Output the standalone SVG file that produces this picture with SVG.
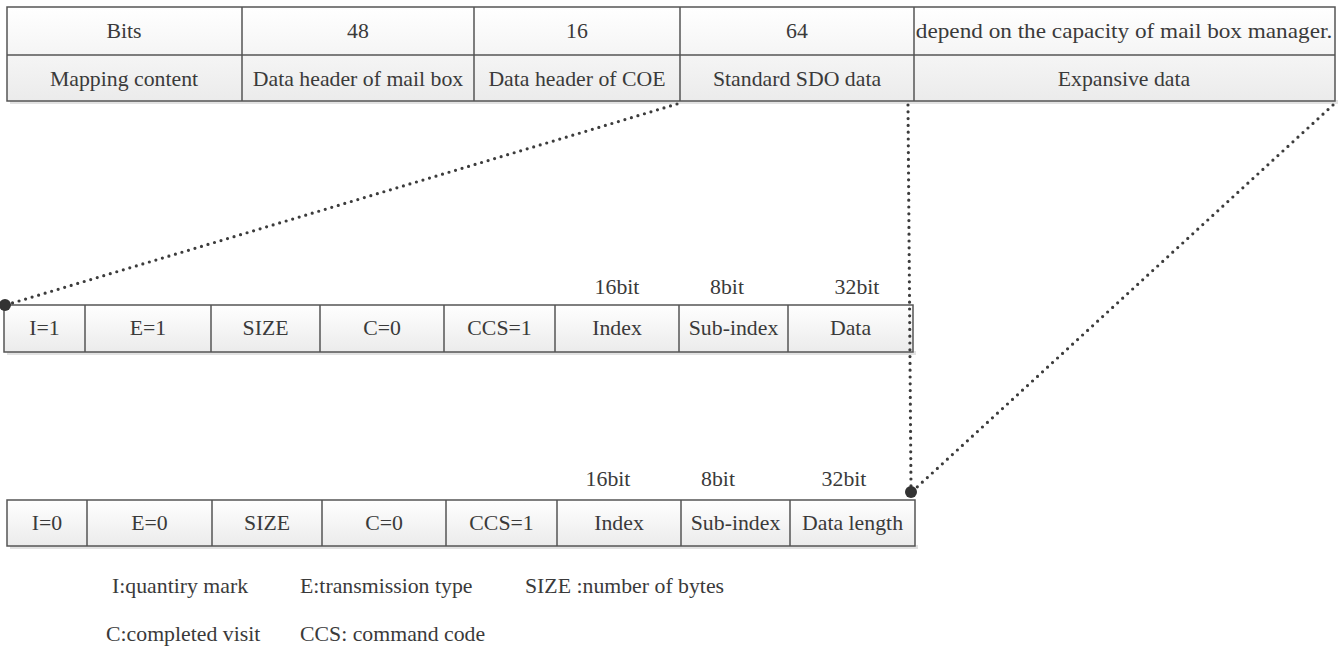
<svg xmlns="http://www.w3.org/2000/svg" width="1343" height="648" viewBox="0 0 1343 648">
<defs>
<linearGradient id="cellfill" x1="0" y1="0" x2="0" y2="1">
<stop offset="0" stop-color="#ffffff"/>
<stop offset="1" stop-color="#ebebeb"/>
</linearGradient>
<style>
.cell{fill:url(#cellfill);stroke:#555555;stroke-width:1.5}
.shadow{fill:#e2e2e2}
.div{stroke:#555555;stroke-width:1.5}
.t{font-family:"Liberation Serif","Times New Roman",serif;font-size:20px;fill:#3a3a3a;text-anchor:middle}
.l{font-family:"Liberation Serif","Times New Roman",serif;font-size:20px;fill:#3a3a3a;text-anchor:start}
.dot{fill:none;stroke:#3c3c3c;stroke-width:3.2;stroke-linecap:round;stroke-dasharray:0 6.8}
.end{fill:#333333}
</style>
</defs>
<rect width="1343" height="648" fill="#ffffff"/>

<g id="top-table">
<rect class="shadow" x="10" y="100" width="1328" height="4"/>
<rect class="cell" x="7" y="7" width="1328" height="94"/>
<line class="div" x1="7" y1="55" x2="1335" y2="55"/>
<line class="div" x1="242" y1="7" x2="242" y2="101"/>
<line class="div" x1="474" y1="7" x2="474" y2="101"/>
<line class="div" x1="680" y1="7" x2="680" y2="101"/>
<line class="div" x1="914" y1="7" x2="914" y2="101"/>
<text class="t" transform="translate(124,38) scale(1.09,1)">Bits</text>
<text class="t" transform="translate(358,38) scale(1.09,1)">48</text>
<text class="t" transform="translate(577,38) scale(1.09,1)">16</text>
<text class="t" transform="translate(797,38) scale(1.09,1)">64</text>
<text class="t" transform="translate(1124,38) scale(1.09,1)" textLength="382" lengthAdjust="spacingAndGlyphs">depend on the capacity of mail box manager.</text>
<text class="t" transform="translate(124,86) scale(1.09,1)">Mapping content</text>
<text class="t" transform="translate(358,86) scale(1.09,1)">Data header of mail box</text>
<text class="t" transform="translate(577,86) scale(1.09,1)">Data header of COE</text>
<text class="t" transform="translate(797,86) scale(1.09,1)">Standard SDO data</text>
<text class="t" transform="translate(1124,86) scale(1.09,1)">Expansive data</text>
</g>

<g id="request-frame">
<rect class="shadow" x="7" y="351" width="909" height="4"/>
<rect class="cell" x="4" y="305" width="909" height="47"/>
<line class="div" x1="85" y1="305" x2="85" y2="352"/>
<line class="div" x1="211" y1="305" x2="211" y2="352"/>
<line class="div" x1="320" y1="305" x2="320" y2="352"/>
<line class="div" x1="444" y1="305" x2="444" y2="352"/>
<line class="div" x1="555" y1="305" x2="555" y2="352"/>
<line class="div" x1="679" y1="305" x2="679" y2="352"/>
<line class="div" x1="788" y1="305" x2="788" y2="352"/>
<text class="t" transform="translate(617,294) scale(1.09,1)">16bit</text>
<text class="t" transform="translate(727,294) scale(1.09,1)">8bit</text>
<text class="t" transform="translate(857,294) scale(1.09,1)">32bit</text>
<text class="t" transform="translate(44.5,335) scale(1.09,1)">I=1</text>
<text class="t" transform="translate(148,335) scale(1.09,1)">E=1</text>
<text class="t" transform="translate(265.5,335) scale(1.09,1)">SIZE</text>
<text class="t" transform="translate(382,335) scale(1.09,1)">C=0</text>
<text class="t" transform="translate(499.5,335) scale(1.09,1)">CCS=1</text>
<text class="t" transform="translate(617,335) scale(1.09,1)">Index</text>
<text class="t" transform="translate(733.5,335) scale(1.09,1)">Sub-index</text>
<text class="t" transform="translate(850.5,335) scale(1.09,1)">Data</text>
</g>

<g id="response-frame">
<rect class="shadow" x="10" y="545" width="908" height="4"/>
<rect class="cell" x="7" y="500" width="908" height="46"/>
<line class="div" x1="87" y1="500" x2="87" y2="546"/>
<line class="div" x1="212" y1="500" x2="212" y2="546"/>
<line class="div" x1="322" y1="500" x2="322" y2="546"/>
<line class="div" x1="446" y1="500" x2="446" y2="546"/>
<line class="div" x1="557" y1="500" x2="557" y2="546"/>
<line class="div" x1="681" y1="500" x2="681" y2="546"/>
<line class="div" x1="790" y1="500" x2="790" y2="546"/>
<text class="t" transform="translate(608,486) scale(1.09,1)">16bit</text>
<text class="t" transform="translate(718,486) scale(1.09,1)">8bit</text>
<text class="t" transform="translate(844,486) scale(1.09,1)">32bit</text>
<text class="t" transform="translate(47,530) scale(1.09,1)">I=0</text>
<text class="t" transform="translate(149.5,530) scale(1.09,1)">E=0</text>
<text class="t" transform="translate(267,530) scale(1.09,1)">SIZE</text>
<text class="t" transform="translate(384,530) scale(1.09,1)">C=0</text>
<text class="t" transform="translate(501.5,530) scale(1.09,1)">CCS=1</text>
<text class="t" transform="translate(619,530) scale(1.09,1)">Index</text>
<text class="t" transform="translate(735.5,530) scale(1.09,1)">Sub-index</text>
<text class="t" transform="translate(852.5,530) scale(1.09,1)">Data length</text>
</g>

<g id="connectors">
<line class="dot" x1="677" y1="104" x2="9" y2="304"/>
<circle class="end" cx="5" cy="305" r="6"/>
<line class="dot" x1="908" y1="105" x2="911" y2="487"/>
<line class="dot" x1="1333" y1="105" x2="916" y2="488"/>
<circle class="end" cx="911" cy="492" r="6"/>
</g>

<g id="legend">
<text class="l" transform="translate(112,593) scale(1.09,1)">I:quantiry mark</text>
<text class="l" transform="translate(300,593) scale(1.09,1)">E:transmission type</text>
<text class="l" transform="translate(525,593) scale(1.09,1)">SIZE :number of bytes</text>
<text class="l" transform="translate(106,641) scale(1.09,1)">C:completed visit</text>
<text class="l" transform="translate(300,641) scale(1.09,1)">CCS: command code</text>
</g>
</svg>
